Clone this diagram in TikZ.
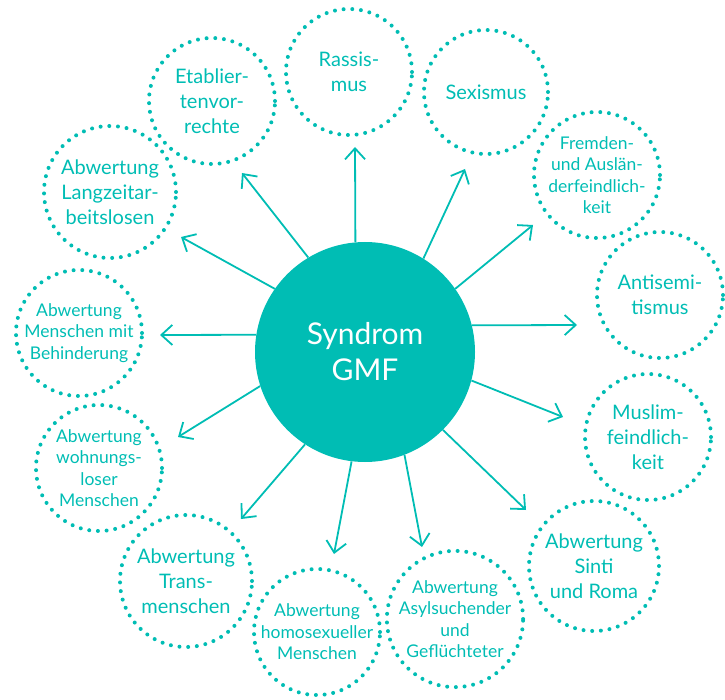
\documentclass[tikz,border=0pt]{standalone}
\usepackage{fontspec}
\setmainfont{Lato}
\usepackage{tikz}
\usetikzlibrary{arrows.meta}
\definecolor{gmfteal}{HTML}{00BDB4}

\begin{document}
\begin{tikzpicture}[x=1pt, y=-1pt,
  facet/.style={circle, draw=gmfteal, line width=4pt, dash pattern=on 0pt off 8.7pt,
    line cap=round, inner sep=0pt, text=gmfteal, align=center},
  bigtext/.style={font=\fontsize{20}{25}\selectfont},
  smalltext/.style={font=\fontsize{17.5}{21.5}\selectfont},
  arr/.style={-{Straight Barb[length=11pt,width=20pt]}, line width=1.8pt, gmfteal}]
\useasboundingbox (0,0) rectangle (725,700);

% Syndrome in the middle
\node[circle, fill=gmfteal, minimum size=220pt, inner sep=0pt, text=white, align=center,
  font=\fontsize{30}{36}\selectfont] (gmf) at (365,352) {Syndrom\\GMF};

% Elements around it
\node[facet, bigtext, minimum size=126pt] (ras) at (349,72) {Rassis-\\mus};
\node[facet, bigtext, minimum size=124pt] (sex) at (486,92) {Sexismus};
\node[facet, smalltext, minimum size=126pt] (frem) at (597,175) {Fremden-\\und Auslän-\\derfeindlich-\\keit};
\node[facet, bigtext, minimum size=126pt] (anti) at (660,295) {Antisemi-\\tismus};
\node[facet, bigtext, minimum size=126pt] (mus) at (648,437) {Muslim-\\feindlich-\\keit};
\node[facet, bigtext, minimum size=130pt] (sinti) at (594,566) {Abwertung\\Sinti\\und Roma};
\node[facet, smalltext, minimum size=132pt] (asyl) at (455,619) {Abwertung\\Asylsuchender\\und\\Geflüchteter};
\node[facet, smalltext, minimum size=126pt] (homo) at (317,632) {Abwertung\\homosexueller\\Menschen};
\node[facet, bigtext, minimum size=132pt] (trans) at (186,581) {Abwertung\\Trans-\\menschen};
\node[facet, smalltext, minimum size=126pt] (wohn) at (99,468) {Abwertung\\wohnungs-\\loser\\Menschen};
\node[facet, smalltext, minimum size=126pt] (behin) at (79,333) {Abwertung\\Menschen mit\\Behinderung};
\node[facet, bigtext, minimum size=132pt] (lang) at (110,192) {Abwertung\\Langzeitar-\\beitslosen};
\node[facet, bigtext, minimum size=126pt] (etab) at (212,101) {Etablier-\\tenvor-\\rechte};

% Arrows outward
\foreach \a/\x/\y/\n in {95/355/147/ras, 58/465/169/sex, 35/533/225/frem, 14/577/325/anti,
    -15/563/417/mus, -45/526/510/sinti, -69/422/547/asyl, -97/334/554/homo,
    -123/241/519/trans, 198/178/437/wohn, 171/160/335/behin, 145/181/237/lang, 121/242/173/etab}
{
  \coordinate (tip-\n) at (\x,\y);
  \draw[arr] (gmf.\a) -- (tip-\n);
}
\end{tikzpicture}
\end{document}
